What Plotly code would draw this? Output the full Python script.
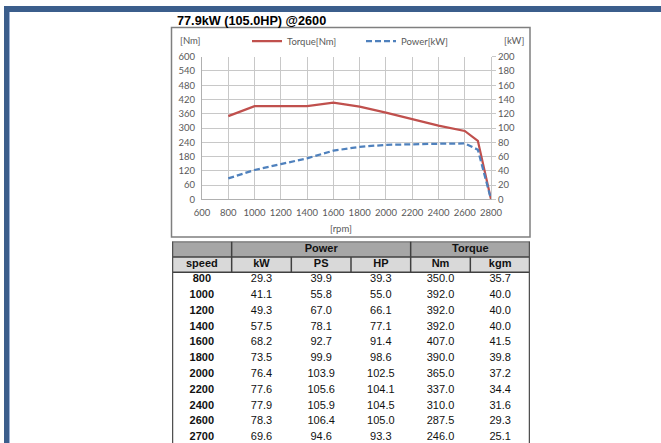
import plotly.graph_objects as go

W, H = 661, 443

# ---------------- data ----------------
rpm = [800, 1000, 1200, 1400, 1600, 1800, 2000, 2200, 2400, 2600, 2700, 2800]
torque_nm = [350.0, 392.0, 392.0, 392.0, 407.0, 390.0, 365.0, 337.0, 310.0, 287.5, 246.0, 0.0]
power_kw = [29.3, 41.1, 49.3, 57.5, 68.2, 73.5, 76.4, 77.6, 77.9, 78.3, 69.6, 0.0]

title_text = "77.9kW (105.0HP) @2600"

table_speed = [800, 1000, 1200, 1400, 1600, 1800, 2000, 2200, 2400, 2600, 2700]
table_kw = [29.3, 41.1, 49.3, 57.5, 68.2, 73.5, 76.4, 77.6, 77.9, 78.3, 69.6]
table_ps = [39.9, 55.8, 67.0, 78.1, 92.7, 99.9, 103.9, 105.6, 105.9, 106.4, 94.6]
table_hp = [39.3, 55.0, 66.1, 77.1, 91.4, 98.6, 102.5, 104.1, 104.5, 105.0, 93.3]
table_nm = [350.0, 392.0, 392.0, 392.0, 407.0, 390.0, 365.0, 337.0, 310.0, 287.5, 246.0]
table_kgm = [35.7, 40.0, 40.0, 40.0, 41.5, 39.8, 37.2, 34.4, 31.6, 29.3, 25.1]

group_headers = ["Power", "Torque"]
col_headers = ["speed", "kW", "PS", "HP", "Nm", "kgm"]


# ---------------- helpers ----------------
def px(x):
    return x / W


def py(y):
    return 1 - y / H


TICK_FONT = dict(family="Lato, Arial, sans-serif", size=9.5, color="#595959")
TAB_FONT = "Liberation Sans Narrow, Arial Narrow, Liberation Sans, Arial, sans-serif"
GRID = "#c8c8c8"

fig = go.Figure()

# ---------------- chart ----------------
fig.add_trace(go.Scatter(
    x=rpm, y=torque_nm, name="Torque[Nm]", mode="lines",
    line=dict(color="#c0504d", width=2.25),
    xaxis="x", yaxis="y", hoverinfo="skip"))
fig.add_trace(go.Scatter(
    x=rpm, y=power_kw, name="Power[kW]", mode="lines",
    line=dict(color="#4f81bd", width=2.25, dash="6px,3px"),
    xaxis="x", yaxis="y2", hoverinfo="skip"))

# ---------------- table ----------------
ROW = 15.8
TOP = 241.5
n_units = (H - TOP) / ROW
H1, H2 = 0.975, 1.95      # header row boundaries (row units)
DATA0 = 2.4               # centre of first data row

cols = [table_speed, table_kw, table_ps, table_hp, table_nm, table_kgm]
for j, col in enumerate(cols):
    if j == 0:
        txt = [str(v) for v in col]
        weight = "bold"
    else:
        txt = [f"{v:.1f}" for v in col]
        weight = "normal"
    fig.add_trace(go.Scatter(
        x=[j + 0.5] * len(col), y=[DATA0 + i for i in range(len(col))],
        text=txt, mode="text", textposition="middle center",
        textfont=dict(family=TAB_FONT, size=11, color="#111111", weight=weight),
        xaxis="x3", yaxis="y3", showlegend=False, hoverinfo="skip", cliponaxis=False))

# header texts
fig.add_trace(go.Scatter(
    x=[2.5, 5.0], y=[H1 / 2] * 2, text=group_headers, mode="text",
    textfont=dict(family=TAB_FONT, size=11, color="#111111", weight="bold"),
    xaxis="x3", yaxis="y3", showlegend=False, hoverinfo="skip", cliponaxis=False))
fig.add_trace(go.Scatter(
    x=[j + 0.5 for j in range(6)], y=[(H1 + H2) / 2] * 6, text=col_headers, mode="text",
    textfont=dict(family=TAB_FONT, size=11, color="#111111", weight="bold"),
    xaxis="x3", yaxis="y3", showlegend=False, hoverinfo="skip", cliponaxis=False))

shapes = []
# header backgrounds
shapes.append(dict(type="rect", xref="x3", yref="y3", x0=0, x1=6, y0=0, y1=H1,
                   fillcolor="#a6a6a6", line=dict(width=0), layer="below"))
shapes.append(dict(type="rect", xref="x3", yref="y3", x0=0, x1=6, y0=H1, y1=H2,
                   fillcolor="#d9d9d9", line=dict(width=0), layer="below"))
LC = "#404040"
for yy in (0, H1, H2):
    shapes.append(dict(type="line", xref="x3", yref="y3", x0=0, x1=6, y0=yy, y1=yy,
                       line=dict(color=LC, width=1.5)))
for xx in (1, 4):
    shapes.append(dict(type="line", xref="x3", yref="y3", x0=xx, x1=xx, y0=0, y1=H2,
                       line=dict(color=LC, width=1.5)))
for xx in (2, 3, 5):
    shapes.append(dict(type="line", xref="x3", yref="y3", x0=xx, x1=xx, y0=H1, y1=H2,
                       line=dict(color=LC, width=1.5)))
for xx in (0, 6):
    shapes.append(dict(type="line", xref="x3", yref="y3", x0=xx, x1=xx, y0=0, y1=n_units,
                       line=dict(color="#505050", width=2.5)))

# chart box
shapes.append(dict(type="rect", xref="paper", yref="paper",
                   x0=px(171.5), x1=px(530), y0=py(237), y1=py(27.5),
                   line=dict(color="#7f7f7f", width=1.5), fillcolor="rgba(0,0,0,0)"))
# blue page frame
FRAME = "#3b5e8c"
shapes.append(dict(type="rect", xref="paper", yref="paper",
                   x0=px(4), x1=px(661), y0=py(12), y1=py(6),
                   line=dict(width=0), fillcolor=FRAME))
shapes.append(dict(type="rect", xref="paper", yref="paper",
                   x0=px(4), x1=px(9), y0=py(443), y1=py(6),
                   line=dict(width=0), fillcolor=FRAME))
shapes.append(dict(type="line", xref="paper", yref="paper",
                   x0=px(9.5), x1=px(9.5), y0=py(443), y1=py(12),
                   line=dict(color="#9db3d6", width=1)))

annotations = [
    dict(text="<b>" + title_text + "</b>", xref="paper", yref="paper",
         x=px(175), y=py(21), xanchor="left", yanchor="middle", showarrow=False,
         font=dict(family="Liberation Sans, Arial, sans-serif", size=12.7, color="#000000")),
    dict(text="[Nm]", xref="paper", yref="paper", x=px(178), y=py(41),
         xanchor="left", yanchor="middle", showarrow=False, font=TICK_FONT),
    dict(text="[kW]", xref="paper", yref="paper", x=px(502), y=py(41),
         xanchor="left", yanchor="middle", showarrow=False, font=TICK_FONT),
    dict(text="[rpm]", xref="paper", yref="paper", x=px(341), y=py(228),
         xanchor="center", yanchor="middle", showarrow=False, font=TICK_FONT),
]

fig.update_layout(
    width=W, height=H, autosize=False,
    margin=dict(l=0, r=0, t=0, b=0, pad=0, autoexpand=False),
    paper_bgcolor="white", plot_bgcolor="white",
    showlegend=True,
    legend=dict(orientation="h", x=px(247), y=py(41), xanchor="left", yanchor="middle",
                font=TICK_FONT, bgcolor="rgba(0,0,0,0)", borderwidth=0,
                entrywidth=69, entrywidthmode="pixels", itemwidth=30),
    xaxis=dict(domain=[px(202), px(491)], range=[600, 2800], tick0=600, dtick=200,
               showgrid=True, gridcolor=GRID, gridwidth=1,
               showline=True, linecolor="#b0b0b0", linewidth=1,
               ticks="outside", ticklen=4, tickcolor="rgba(0,0,0,0)",
               tickfont=TICK_FONT, zeroline=False, anchor="y", fixedrange=True,
               automargin=False),
    yaxis=dict(domain=[py(199.3), py(56.7)], range=[0, 600], tick0=0, dtick=60,
               showgrid=True, gridcolor=GRID, gridwidth=1,
               showline=True, linecolor="#b0b0b0", linewidth=1,
               ticks="outside", ticklen=4, tickcolor="rgba(0,0,0,0)",
               tickfont=TICK_FONT, zeroline=False, anchor="x", fixedrange=True,
               automargin=False),
    yaxis2=dict(overlaying="y", side="right", range=[0, 200], tick0=0, dtick=20,
                showgrid=False, showline=True, linecolor=GRID,
                ticks="outside", ticklen=4, tickcolor=GRID,
                tickfont=TICK_FONT, zeroline=False, anchor="x", fixedrange=True,
                automargin=False),
    xaxis3=dict(domain=[px(172), px(530)], range=[0, 6], visible=False, fixedrange=True,
                anchor="y3", automargin=False),
    yaxis3=dict(domain=[0, py(TOP)], range=[n_units, 0], visible=False, fixedrange=True,
                anchor="x3", automargin=False),
    shapes=shapes,
    annotations=annotations,
)

fig.write_html(
    "out.html",
    config={"displayModeBar": False},
    post_script="document.body.style.margin='0';document.body.style.padding='0';",
)
